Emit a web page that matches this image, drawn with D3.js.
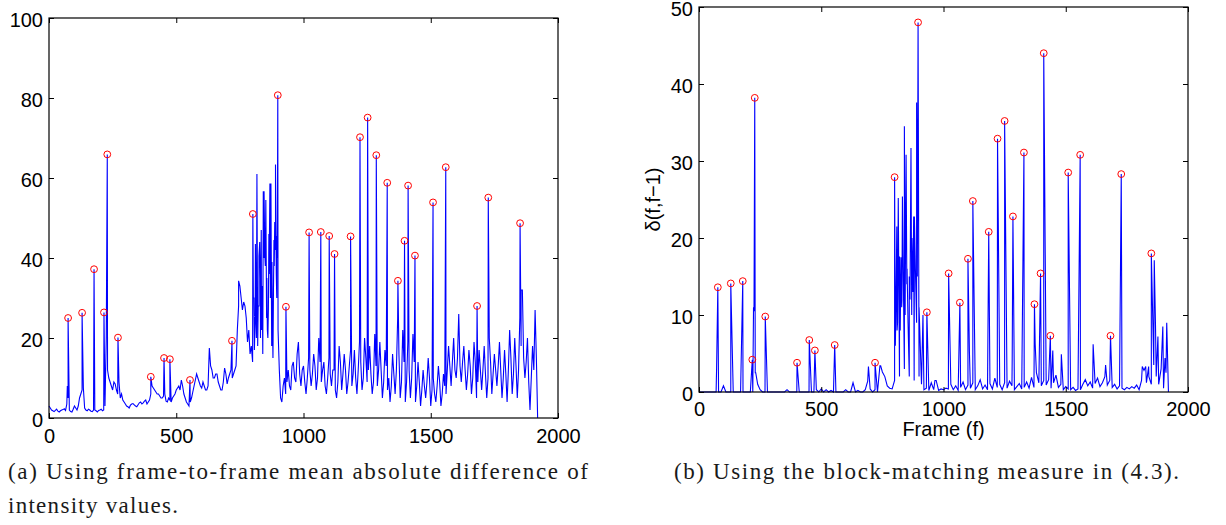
<!DOCTYPE html>
<html>
<head>
<meta charset="utf-8">
<script src="https://cdn.jsdelivr.net/npm/d3@7"></script>
<style>
  body { margin: 0; background: #fff; }
  svg { display: block; }
  .axis text { font-family: "Liberation Sans", Arial, sans-serif; font-size: 20px; fill: #000; }
  .axis-title { font-family: "Liberation Sans", Arial, sans-serif; font-size: 20px; fill: #000; }
  .caption { font-family: "Liberation Serif", "DejaVu Serif", serif; font-size: 23px; fill: #1a1a1a; }
</style>
</head>
<body>
<svg width="1226" height="525"></svg>
<script>
// (a) mean absolute difference of intensity, read every 5 frames
const madStep = 5;
const madBase = [
  3, 2.5, 2, 1.8, 1.6, 1.9, 2.2, 1.7, 1.5, 1.8, 2, 2.1, 2.3, 1.9, 3.5, 5, 2, 1.6, 1.5, 2.2,
  3, 2.5, 2, 3, 5, 6, 7, 7.5, 2.5, 2, 1.8, 2.2, 2, 1.7, 1.6, 2, 2, 1.8, 1.5, 1.9,
  2, 2.2, 1.8, 2, 3, 20, 12, 10, 9, 8, 7, 9, 8.5, 7, 6, 9, 5, 6, 4.5, 4,
  3.5, 3, 2.8, 2.5, 3.2, 3.5, 3.6, 3.3, 3, 2.8, 3.3, 3.8, 4, 3.5, 3.8, 4.2, 4.5, 3.5, 4, 4.5,
  6, 8, 7.5, 7, 6.5, 6, 6, 5.5, 5, 5, 5.5, 6, 4.2, 4, 5, 4.5, 4, 5, 5.5, 6,
  7, 7.5, 8, 7, 9.5, 8, 6, 5, 4, 3.5, 3, 4, 5, 6.5, 8, 9.5, 11, 10, 9, 8,
  7.5, 9, 8, 7, 7, 8, 17.5, 13, 12, 10, 10, 11, 11, 9, 8, 7, 7, 9, 12.5, 11,
  8.5, 10, 11, 12, 10, 11, 12, 13, 22, 28, 33, 30, 27, 29, 28, 25, 19, 22, 16, 18,
  14, 30, 25, 20, 18, 28, 35, 22, 16, 40, 38, 25, 20, 36, 30, 18, 15, 38, 42, 30,
  22, 12, 5, 4, 8, 10, 6, 9, 12, 8, 7, 13, 14, 10, 9, 16, 19, 11, 8, 12,
  13, 9, 6, 10, 15, 12, 8, 11, 16, 13, 7, 10, 20, 14, 9, 12, 14, 8, 6, 10,
  15, 11, 8, 12, 12, 7, 5, 9, 18, 14, 7, 11, 16, 12, 6, 9, 13, 17, 8, 11,
  17, 10, 6, 12, 19, 14, 7, 10, 20, 15, 9, 12, 18, 11, 6, 9, 21, 13, 8, 12,
  19, 12, 5, 9, 17, 13, 7, 10, 4, 8, 16, 11, 6, 12, 25, 16, 5, 9, 22, 14,
  4, 9, 19, 12, 5, 10, 21, 14, 4, 8, 14, 9, 3, 7, 12, 8, 5, 9, 15, 10,
  3, 7, 10, 6, 4, 8, 13, 9, 3, 6, 11, 8, 6, 12, 18, 13, 8, 14, 20, 12,
  10, 15, 26, 13, 9, 14, 18, 12, 7, 11, 17, 13, 6, 10, 19, 14, 5, 9, 17, 12,
  7, 12, 18, 11, 5, 10, 20, 14, 6, 11, 16, 12, 8, 13, 19, 12, 5, 10, 17, 11,
  4, 12, 22, 15, 6, 11, 20, 13, 5, 12, 25, 18, 32, 15, 10, 14, 20, 9, 2, 10,
  18, 12, 27, 15, 0
];
const madPeakFrames = [75, 130, 177, 216, 229, 271, 400, 452, 475, 554, 719, 801, 899, 931, 1022, 1068, 1101, 1122, 1185, 1222, 1252, 1286, 1329, 1371, 1397, 1411, 1438, 1509, 1559, 1682, 1726, 1851];
const madPeakValues = [25, 26.3, 37.2, 26.4, 65.9, 20.1, 10.3, 15, 14.7, 9.5, 19.3, 51, 80.7, 27.8, 46.4, 46.5, 45.5, 41, 45.4, 70.2, 75.1, 65.7, 58.8, 34.3, 44.3, 58.1, 40.6, 53.9, 62.7, 28, 55.1, 48.7];
const madSpikeFrames = [72, 745, 803, 807, 811, 813, 817, 822, 825, 828, 831, 834, 838, 842, 845, 848, 852, 856, 858, 862, 864, 868, 872, 876, 878, 882, 884, 887, 890, 893, 895, 897, 1855];
const madSpikeValues = [8, 34.3, 30, 17, 43.5, 26, 61, 28, 40.5, 44, 20, 47, 33, 56.7, 56.7, 41, 54.5, 35, 22, 27, 46, 58.6, 58.6, 39, 24, 32, 44.5, 49, 63.4, 36, 45.5, 40, 32];

// (b) block-matching measure, read every 10 frames
const bmStep = 10;
const bmBase = [
  0, 0, 0, 0, 0, 0, 0, 0, 0, 0,
  0.8, 0, 0, 0, 0, 0, 0, 0, 0, 0,
  0, 0, 0, 2.5, 1, 0.3, 0, 0, 0, 0,
  0, 0, 0, 0, 0, 0, 0.3, 0, 0, 0,
  0, 0, 0, 0, 0, 0, 0, 0, 0.3, 0,
  0.4, 0, 0.3, 0, 0.2, 0, 0, 0, 0, 0,
  0.3, 0, 0, 1.2, 0, 0.2, 0, 0, 0.3, 1.4,
  0.4, 0, 0.3, 0, 3.4, 2.6, 2, 0.8, 0.5, 0.4,
  1.5, 8, 2, 12, 3, 14, 2, 10, 1.5, 9,
  2, 1, 0.3, 0.5, 0.2, 1.2, 0.3, 1.5, 0.2, 0.4,
  0.3, 0.5, 0.4, 1, 0.3, 0.8, 0.2, 0.6, 1.3, 0.3,
  0.9, 0.5, 1.2, 0.3, 0.8, 1.6, 0.4, 0.9, 0.3, 1.1,
  0.4, 1.8, 0.6, 1, 0.3, 1.2, 0.5, 1.4, 0.8, 0.3,
  0.7, 1.1, 0.4, 0.6, 1.3, 0.5, 1.9, 0.6, 2.5, 1.2,
  0.8, 1.5, 0.9, 1.6, 0.5, 1.2, 2.2, 0.6, 1, 0.3,
  0.7, 0.4, 0.3, 0.6, 0.2, 0.4, 0.3, 1, 1.6, 0.8,
  1.3, 0.5, 1.1, 1.8, 0.7, 1.2, 2, 0.9, 1.5, 0.6,
  1, 0.4, 0.8, 0.5, 0.3, 0.6, 0.4, 0.7, 0.5, 0.9,
  0.3, 1.5, 2.8, 1.2, 2, 1, 3.5, 2, 1, 3,
  0.5, 2.5, 0
];
const bmPeakFrames = [77, 130, 179, 218, 228, 271, 401, 451, 474, 555, 720, 800, 896, 932, 1021, 1067, 1100, 1120, 1185, 1221, 1250, 1284, 1329, 1372, 1397, 1410, 1437, 1510, 1559, 1683, 1727, 1850];
const bmPeakValues = [13.6, 14.1, 14.4, 4.2, 38.2, 9.8, 3.8, 6.75, 5.4, 6.1, 3.8, 27.9, 48, 10.35, 15.4, 11.6, 17.3, 24.8, 20.8, 32.9, 35.2, 22.8, 31.1, 11.4, 15.4, 44, 7.3, 28.5, 30.8, 7.3, 28.3, 18];
const bmSpikeFrames = [72, 223, 225, 232, 693, 743, 803, 806, 809, 812, 815, 820, 823, 826, 829, 832, 836, 840, 843, 847, 851, 855, 860, 863, 867, 871, 875, 878, 881, 885, 890, 893, 900, 905, 916, 965, 1106, 1281, 1375, 1447, 1482, 1612, 1663, 1813, 1827, 1839, 1862, 1867, 1877, 1897, 1906, 1913];
const bmSpikeValues = [3.1, 11, 10.5, 2.5, 3.3, 3.4, 6, 12, 21.5, 9, 25.2, 17.6, 8, 17.5, 11, 25.4, 14, 34.5, 10, 30.8, 16, 9, 15, 12, 31.7, 20, 13, 22.8, 22.8, 16, 37.6, 15, 11, 6, 10, 1.5, 5.2, 4.4, 6.2, 5.4, 4.9, 6.2, 3.5, 3.3, 3.3, 3.3, 17.1, 8.7, 7.2, 8.5, 4.4, 9];

const frameTicks = [0, 500, 1000, 1500, 2000];
const madTicks = [0, 20, 40, 60, 80, 100];
const bmTicks = [0, 10, 20, 30, 40, 50];

const svg = d3.select("svg");

function buildSeries(base, step, spikeFrames, spikeValues, peakFrames, peakValues) {
  const pts = base.map((v, i) => ({ f: i * step, v: v }));
  spikeFrames.forEach((f, i) => pts.push({ f: f, v: spikeValues[i] }));
  peakFrames.forEach((f, i) => pts.push({ f: f, v: peakValues[i] }));
  return pts.sort((a, b) => a.f - b.f);
}

function drawPanel(p) {
  const x = d3.scaleLinear().domain([0, 2000]).range([p.left, p.right]);
  const y = d3.scaleLinear().domain([0, p.yMax]).range([p.bottom, p.top]);
  const g = svg.append("g");

  const series = buildSeries(p.base, p.step, p.spikeFrames, p.spikeValues, p.peakFrames, p.peakValues);

  g.append("path")
    .datum(series)
    .attr("fill", "none")
    .attr("stroke", "#0000ff")
    .attr("stroke-width", 1.1)
    .attr("d", d3.line().x(d => x(d.f)).y(d => y(d.v)));

  g.selectAll("circle.peak")
    .data(p.peakFrames.map((f, i) => ({ f: f, v: p.peakValues[i] })))
    .join("circle")
    .attr("class", "peak")
    .attr("cx", d => x(d.f))
    .attr("cy", d => y(d.v))
    .attr("r", 3.4)
    .attr("fill", "none")
    .attr("stroke", "#ff0000")
    .attr("stroke-width", 1);

  // matlab box with inward ticks on all sides
  g.append("g")
    .attr("class", "axis")
    .attr("transform", `translate(0, ${p.bottom})`)
    .call(d3.axisBottom(x).tickValues(frameTicks).tickSize(-5).tickPadding(p.xPad).tickFormat(d3.format("d")));
  const leftAxis = g.append("g")
    .attr("class", "axis")
    .attr("transform", `translate(${p.left}, 0)`)
    .call(d3.axisLeft(y).tickValues(p.yTicks).tickSize(-5).tickPadding(6).tickFormat(d3.format("d")));
  g.append("g")
    .attr("class", "axis")
    .attr("transform", `translate(0, ${p.top})`)
    .call(d3.axisTop(x).tickValues(frameTicks).tickSize(-5).tickFormat(""));
  g.append("g")
    .attr("class", "axis")
    .attr("transform", `translate(${p.right}, 0)`)
    .call(d3.axisRight(y).tickValues(p.yTicks).tickSize(-5).tickFormat(""));

  g.selectAll(".axis .domain").remove();
  g.selectAll(".axis line").attr("stroke", "#000");
  leftAxis.selectAll("text").attr("dy", "0.4em");

  g.append("rect")
    .attr("x", p.left)
    .attr("y", p.top)
    .attr("width", p.right - p.left)
    .attr("height", p.bottom - p.top)
    .attr("fill", "none")
    .attr("stroke", "#000")
    .attr("stroke-width", 1.2);

  return g;
}

drawPanel({
  left: 49, right: 558, top: 18, bottom: 418, yMax: 100, yTicks: madTicks, xPad: 10.5,
  base: madBase, step: madStep, spikeFrames: madSpikeFrames, spikeValues: madSpikeValues,
  peakFrames: madPeakFrames, peakValues: madPeakValues
});

const right = drawPanel({
  left: 699, right: 1188, top: 7, bottom: 392, yMax: 50, yTicks: bmTicks, xPad: 10,
  base: bmBase, step: bmStep, spikeFrames: bmSpikeFrames, spikeValues: bmSpikeValues,
  peakFrames: bmPeakFrames, peakValues: bmPeakValues
});

right.append("text")
  .attr("class", "axis-title")
  .attr("text-anchor", "middle")
  .attr("x", 943.5)
  .attr("y", 436)
  .text("Frame (f)");

right.append("text")
  .attr("class", "axis-title")
  .attr("text-anchor", "middle")
  .attr("transform", "translate(660, 199.5) rotate(-90)")
  .text("δ(f,f−1)");

// captions
svg.append("text")
  .attr("class", "caption")
  .attr("x", 8)
  .attr("y", 479)
  .attr("textLength", 580)
  .attr("lengthAdjust", "spacing")
  .text("(a) Using frame-to-frame mean absolute difference of");

svg.append("text")
  .attr("class", "caption")
  .attr("x", 8)
  .attr("y", 513)
  .attr("textLength", 170)
  .attr("lengthAdjust", "spacing")
  .text("intensity values.");

svg.append("text")
  .attr("class", "caption")
  .attr("x", 674)
  .attr("y", 479)
  .attr("textLength", 505)
  .attr("lengthAdjust", "spacing")
  .text("(b) Using the block-matching measure in (4.3).");
</script>
</body>
</html>
